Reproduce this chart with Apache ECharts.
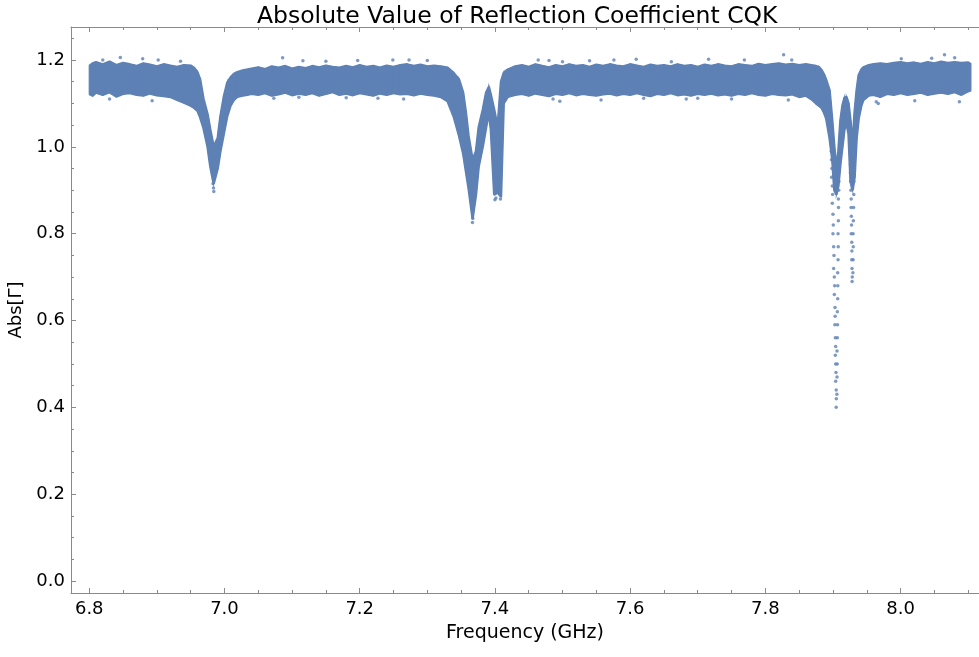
<!DOCTYPE html>
<html>
<head>
<meta charset="utf-8">
<script src="https://cdn.jsdelivr.net/npm/echarts@6/dist/echarts.min.js"></script>
<style>
html,body{margin:0;padding:0;background:#fff;}
#chart{width:979px;height:657px;}
</style>
</head>
<body>
<div id="chart"></div>
<script>
// Dense band of the measured points: frequency samples with upper / lower envelope of |Γ|
const freq = [6.800,6.805,6.810,6.820,6.830,6.840,6.850,6.860,6.870,6.880,6.890,6.900,6.910,6.920,6.930,6.940,6.950,6.955,6.960,6.964,6.969,6.975,6.979,6.984,6.990,6.994,6.999,7.004,7.009,7.014,7.019,7.027,7.034,
7.040,7.050,7.060,7.070,7.080,7.090,7.100,7.110,7.120,7.130,7.140,7.150,7.160,7.170,7.180,7.190,7.200,7.210,7.220,7.230,7.240,7.250,7.260,7.270,7.280,7.290,7.300,7.310,
7.320,7.330,7.339,7.347,7.353,7.357,7.361,7.367,7.372,7.376,7.382,7.387,7.391,7.394,7.399,7.404,7.409,7.413,7.419,
7.430,7.440,7.450,7.460,7.470,7.480,7.490,7.500,7.510,7.520,7.530,7.540,7.550,7.560,7.570,7.580,7.590,7.600,7.610,7.620,7.630,7.640,7.650,7.660,7.670,7.680,7.690,7.700,7.710,7.720,7.730,7.740,7.750,7.760,7.770,7.780,7.790,7.800,7.810,7.820,7.830,7.840,7.850,7.860,
7.868,7.875,7.879,7.883,7.887,7.890,7.895,7.899,7.902,7.905,7.908,7.911,7.914,7.917,7.920,7.923,7.926,7.929,7.932,7.935,7.938,7.942,7.945,7.953,
7.960,7.970,7.980,7.990,8.000,8.010,8.020,8.030,8.040,8.050,8.060,8.070,8.080,8.090,8.100,8.104];
const upper = [1.186,1.192,1.195,1.190,1.196,1.188,1.193,1.190,1.186,1.192,1.189,1.185,1.190,1.187,1.184,1.188,1.187,1.182,1.172,1.155,1.110,1.075,1.040,1.000,1.020,1.070,1.115,1.147,1.160,1.168,1.172,1.176,1.178,
1.180,1.183,1.179,1.185,1.182,1.186,1.180,1.184,1.181,1.186,1.183,1.187,1.184,1.182,1.186,1.183,1.188,1.184,1.186,1.182,1.187,1.184,1.188,1.190,1.186,1.189,1.185,1.187,
1.185,1.182,1.170,1.155,1.125,1.080,1.025,0.970,0.990,1.045,1.085,1.125,1.138,1.120,1.085,1.045,1.150,1.170,1.178,
1.185,1.188,1.184,1.190,1.186,1.183,1.188,1.185,1.190,1.186,1.188,1.184,1.189,1.186,1.190,1.187,1.185,1.190,1.187,1.184,1.189,1.186,1.188,1.185,1.190,1.186,1.188,1.184,1.189,1.186,1.190,1.187,1.185,1.190,1.188,1.186,1.191,1.188,1.190,1.192,1.189,1.191,1.188,1.190,
1.188,1.186,1.184,1.177,1.166,1.154,1.130,1.060,1.000,0.950,0.990,1.060,1.095,1.113,1.115,1.100,1.060,1.000,1.080,1.130,1.165,1.178,1.183,1.188,
1.190,1.192,1.190,1.193,1.195,1.192,1.194,1.191,1.195,1.192,1.196,1.193,1.195,1.193,1.194,1.190];
const lower = [1.122,1.118,1.125,1.120,1.126,1.116,1.122,1.124,1.120,1.118,1.123,1.119,1.117,1.115,1.108,1.102,1.095,1.090,1.083,1.068,1.043,1.000,0.955,0.915,0.950,0.990,1.030,1.070,1.095,1.108,1.115,1.118,1.120,
1.122,1.120,1.124,1.118,1.121,1.125,1.119,1.123,1.120,1.124,1.118,1.122,1.126,1.120,1.123,1.119,1.124,1.121,1.118,1.123,1.120,1.124,1.121,1.122,1.119,1.123,1.120,1.118,
1.115,1.105,1.070,1.025,0.985,0.945,0.905,0.835,0.890,0.955,1.000,1.045,1.080,1.040,0.890,0.895,0.885,1.100,1.115,
1.120,1.122,1.118,1.123,1.120,1.117,1.122,1.120,1.124,1.119,1.122,1.120,1.118,1.121,1.123,1.119,1.122,1.120,1.124,1.120,1.117,1.122,1.120,1.124,1.119,1.121,1.118,1.122,1.120,1.123,1.119,1.121,1.118,1.122,1.120,1.124,1.120,1.118,1.122,1.120,1.119,1.121,1.115,1.118,
1.110,1.100,1.095,1.090,1.078,1.065,1.020,0.970,0.900,0.890,0.910,0.960,1.000,1.040,1.055,1.030,0.920,0.900,0.930,1.020,1.065,1.095,1.108,1.118,
1.120,1.115,1.122,1.120,1.124,1.120,1.122,1.125,1.120,1.123,1.125,1.122,1.126,1.120,1.128,1.130];

// Individual scattered points: stray points at the band edges and the sparse points inside the dips
const dotFreq = [6.846,6.879,6.902,6.935,6.820,7.086,7.116,7.197,7.249,7.273,7.300,7.464,7.480,7.500,7.576,7.609,7.661,7.716,7.769,7.827,7.839,8.001,8.046,8.065,8.080,7.150,7.540,
6.893,6.830,7.073,7.110,7.227,7.265,7.180,7.486,7.496,7.557,7.620,7.683,7.700,7.750,7.834,7.967,7.964,8.021,8.087,
6.9830,6.9838,6.9842,7.3668,7.3672,7.4000,7.4015,7.4075,7.4082,
7.8975,7.8978,7.8985,7.8980,7.8990,7.8995,7.8990,7.9000,7.9005,7.9000,7.9010,7.9015,7.9010,7.9020,7.9025,7.9020,7.9030,7.9032,7.9028,7.9035,7.9040,7.9035,7.9040,7.9045,7.9040,7.9048,7.9050,7.9048,
7.9058,7.9060,7.9063,7.9060,7.9065,7.9068,7.9065,7.9070,7.9072,7.9070,7.9075,7.9078,7.9075,7.9080,7.9082,7.9080,7.9085,7.9088,
7.9245,7.9250,7.9255,7.9260,7.9258,7.9262,7.9265,7.9270,7.9268,7.9272,7.9275,7.9270,7.9278,7.9280,7.9278,7.9282,7.9285,7.9283,
7.9295,7.9298,7.9300,7.9298,7.9302,7.9305,7.9308,7.9310,7.9315];
const dotVal = [1.206,1.203,1.200,1.197,1.200,1.205,1.198,1.199,1.200,1.200,1.199,1.200,1.199,1.196,1.200,1.202,1.196,1.202,1.200,1.212,1.200,1.203,1.204,1.212,1.205,1.197,1.198,
1.106,1.110,1.112,1.114,1.112,1.110,1.113,1.110,1.105,1.108,1.112,1.110,1.112,1.110,1.108,1.100,1.104,1.106,1.104,
0.915,0.905,0.897,0.826,0.835,0.878,0.882,0.890,0.880,
0.99,0.97,0.95,0.93,0.91,0.89,0.87,0.845,0.82,0.80,0.77,0.75,0.72,0.70,0.68,0.66,0.63,0.61,0.59,0.56,0.54,0.52,0.50,0.48,0.46,0.44,0.42,0.40,
0.43,0.47,0.50,0.53,0.56,0.59,0.62,0.65,0.68,0.71,0.74,0.77,0.80,0.83,0.86,0.88,0.90,0.92,
1.04,1.01,0.99,0.96,0.94,0.92,0.90,0.88,0.86,0.84,0.82,0.80,0.78,0.76,0.74,0.72,0.70,0.69,
0.71,0.74,0.77,0.80,0.83,0.86,0.89,0.92,0.95];

const xTicks = [6.8,7.0,7.2,7.4,7.6,7.8,8.0];
const yTicks = [0.0,0.2,0.4,0.6,0.8,1.0,1.2];

const COLOR = '#5e81b5';
const FONT = 'DejaVu Sans';
const AXIS_COLOR = '#8a8a8a';
const xMin = 6.773, xMax = 8.116, yMin = -0.0276, yMax = 1.276;

function minorOf(ticks, step, lo, hi) {
  const out = [];
  const start = Math.ceil((lo - 1e-9) / step);
  const end = Math.floor((hi + 1e-9) / step);
  for (let k = start; k <= end; k++) {
    const v = +(k * step).toFixed(4);
    if (!ticks.some(t => Math.abs(t - v) < 1e-6)) out.push(v);
  }
  return out;
}
const xMinor = minorOf(xTicks, 0.05, xMin, xMax);
const yMinor = minorOf(yTicks, 0.05, yMin, yMax);

function xAx(pos, ticks, len, labels, line) {
  return {
    type: 'value', min: xMin, max: xMax, position: pos, gridIndex: 0,
    axisLine: { show: line, onZero: false, lineStyle: { color: AXIS_COLOR, width: 1 } },
    axisTick: { show: true, inside: true, length: len, customValues: ticks, lineStyle: { color: AXIS_COLOR } },
    axisLabel: labels ? { show: true, customValues: ticks, formatter: v => v.toFixed(1), fontSize: 18, fontFamily: FONT, color: '#000', margin: 7 } : { show: false },
    splitLine: { show: false }
  };
}
function yAx(pos, ticks, len, labels, line) {
  return {
    type: 'value', min: yMin, max: yMax, position: pos, gridIndex: 0,
    axisLine: { show: line, onZero: false, lineStyle: { color: AXIS_COLOR, width: 1 } },
    axisTick: { show: true, inside: true, length: len, customValues: ticks, lineStyle: { color: AXIS_COLOR } },
    axisLabel: labels ? { show: true, customValues: ticks, formatter: v => v.toFixed(1), fontSize: 18, fontFamily: FONT, color: '#000', margin: 6 } : { show: false },
    splitLine: { show: false }
  };
}

const xMain = xAx('bottom', xTicks, 5, true, true);
xMain.name = 'Frequency (GHz)';
xMain.nameLocation = 'middle';
xMain.nameGap = 31;
xMain.nameTextStyle = { fontSize: 19, fontFamily: FONT, color: '#000' };
const yMain = yAx('left', yTicks, 5, true, true);
yMain.name = 'Abs[Γ]';
yMain.nameLocation = 'middle';
yMain.nameGap = 43;
yMain.nameRotate = 90;
yMain.nameTextStyle = { fontSize: 18, fontFamily: FONT, color: '#000' };

// band segments: one quadrilateral between consecutive samples
const bandData = [];
for (let i = 0; i < freq.length - 1; i++) {
  bandData.push([freq[i], lower[i], upper[i], freq[i + 1], lower[i + 1], upper[i + 1]]);
}

const chart = echarts.init(document.getElementById('chart'), null, { renderer: 'canvas' });
chart.setOption({
  animation: false,
  backgroundColor: '#fff',
  title: {
    text: 'Absolute Value of Reflection Coefficient CQK',
    left: 252, top: 0,
    textStyle: { fontSize: 23.5, fontWeight: 'normal', fontFamily: FONT, color: '#000' }
  },
  grid: { left: 71, right: 0, top: 27, bottom: 64, containLabel: false, outerBoundsMode: 'none' },
  xAxis: [
    xMain,
    xAx('bottom', xMinor, 3, false, false),
    xAx('top', xTicks, 5, false, true),
    xAx('top', xMinor, 3, false, false)
  ],
  yAxis: [
    yMain,
    yAx('left', yMinor, 3, false, false)
  ],
  series: [
    {
      type: 'custom', xAxisIndex: 0, yAxisIndex: 0,
      data: bandData,
      encode: { x: [0, 3], y: [1, 2, 4, 5] },
      renderItem: function (params, api) {
        const a = api.coord([api.value(0), api.value(1)]);
        const b = api.coord([api.value(0), api.value(2)]);
        const c = api.coord([api.value(3), api.value(5)]);
        const d = api.coord([api.value(3), api.value(4)]);
        return {
          type: 'polygon',
          shape: { points: [a, b, c, d] },
          style: { fill: COLOR, stroke: COLOR, lineWidth: 1.2 }
        };
      },
      z: 2
    },
    {
      type: 'line', xAxisIndex: 0, yAxisIndex: 0, symbol: 'none',
      data: freq.map((f, i) => [f, upper[i]]),
      lineStyle: { color: COLOR, width: 2.5 }, z: 2
    },
    {
      type: 'line', xAxisIndex: 0, yAxisIndex: 0, symbol: 'none',
      data: freq.map((f, i) => [f, lower[i]]),
      lineStyle: { color: COLOR, width: 2.5 }, z: 2
    },
    {
      type: 'scatter', xAxisIndex: 0, yAxisIndex: 0, symbol: 'circle', symbolSize: 3.5,
      data: dotFreq.map((f, i) => [f, dotVal[i]]),
      itemStyle: { color: COLOR },
      z: 3
    }
  ]
});
</script>
</body>
</html>
